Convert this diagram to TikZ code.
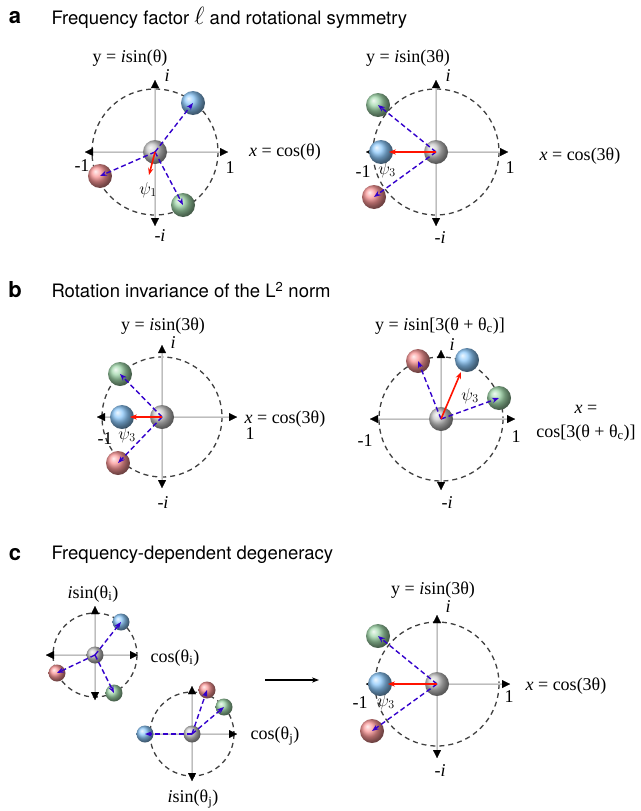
\documentclass[tikz,border=0pt]{standalone}
\usepackage{fontspec}
\setmainfont{Liberation Serif}
\newfontfamily\hel{TeX Gyre Heros}
\usetikzlibrary{arrows.meta}
\tikzset{
  ax/.style={gray!30, line width=1.2pt},
  axtip/.style={-{Triangle[length=8pt,width=8pt]}, black, line width=0.01pt},
  ring/.style={dashed, dash pattern=on 5pt off 4pt, line width=1.3pt, black!75},
  ball/.style={circle, minimum size=24pt, inner sep=0pt, shading=ball, ball color=#1},
  vec/.style={-{Stealth[length=7pt]}, dashed, dash pattern=on 5pt off 3pt, line width=1.4pt, blue!60!violet},
  psi/.style={-{Stealth[length=7pt]}, line width=1.6pt, red!85!orange},
  lab/.style={font=\fontsize{18}{20}\selectfont},
  ttl/.style={font=\hel\fontsize{18.5}{21}\selectfont, anchor=west},
  pan/.style={font=\hel\bfseries\fontsize{22}{24}\selectfont}
}
\newcommand{\plane}[7]{% cx cy r left right top bottom
  \draw[ring] (#1,#2) circle[radius=#3];
  \draw[ax] (#4,#2) -- (#5,#2);
  \draw[ax] (#1,#6) -- (#1,#7);
  \draw[axtip] (#1+1,#2) -- (#5,#2);
  \draw[axtip] (#1-1,#2) -- (#4,#2);
  \draw[axtip] (#1,#2-1) -- (#1,#6);
  \draw[axtip] (#1,#2+1) -- (#1,#7);
}
\begin{document}
\begin{tikzpicture}[x=1pt,y=-1pt]
\useasboundingbox (0,0) rectangle (640,811);
\definecolor{bb}{RGB}{140,200,250}
\definecolor{rb}{RGB}{250,150,150}
\definecolor{gb}{RGB}{160,215,170}
\definecolor{kb}{RGB}{200,200,200}
% panel a
\node[pan] (pa) at (15,18) {a};
\node[ttl] (ta) at (48,18) {Frequency factor {\fontsize{28}{28}\selectfont$\ell$} and rotational symmetry};
% a left
\plane{155}{152}{63}{85}{228}{80}{226}
\node[ball=kb] (a1g) at (155,152) {};
\node[ball=bb] (a1b) at (193,103) {};
\node[ball=rb] (a1r) at (100,176) {};
\node[ball=gb] (a1e) at (183,205) {};
\draw[vec] (a1g.center) -- (a1b.center);
\draw[vec] (a1g.center) -- (a1r.center);
\draw[vec] (a1g.center) -- (a1e.center);
\coordinate (a1p) at (149,175);
\draw[psi] (a1g.center) -- (a1p);
\node[lab] (a1t) at (130,58) {y = \textit{i}sin(θ)};
\node[lab] (a1i) at (167,76) {\textit{i}};
\node[lab] (a1x) at (285,152) {\textit{x} = cos(θ)};
\node[lab] (a1m) at (82,166) {-1};
\node[lab] (a1o) at (230,168) {1};
\node[lab] (a1n) at (160,236) {-\textit{i}};
\node[lab] (a1s) at (148,190) {$\psi_1$};
% a right
\plane{436}{152}{63}{366}{508}{80}{226}
\node[ball=kb] (a2g) at (436,152) {};
\node[ball=gb] (a2e) at (378,105) {};
\node[ball=bb] (a2b) at (381,152) {};
\node[ball=rb] (a2r) at (374,197) {};
\draw[vec] (a2g.center) -- (a2e.center);
\draw[vec] (a2g.center) -- (a2r.center);
\coordinate (a2p) at (389,152);
\draw[psi] (a2g.center) -- (a2p);
\node[lab] (a2t) at (408,58) {y = \textit{i}sin(3θ)};
\node[lab] (a2i) at (448,76) {\textit{i}};
\node[lab] (a2x) at (580,156) {\textit{x} = cos(3θ)};
\node[lab] (a2m) at (363,172) {-1};
\node[lab] (a2o) at (510,168) {1};
\node[lab] (a2n) at (440,238) {-\textit{i}};
\node[lab] (a2s) at (387,170) {$\psi_3$};
% panel b
\node[pan] (pb) at (15,290) {b};
\node[ttl] (tb) at (48,290) {Rotation invariance of the L\textsuperscript{2} norm};
% b left
\plane{162}{417}{60}{97}{237}{345}{488}
\node[ball=kb] (b1g) at (162,417) {};
\node[ball=gb] (b1e) at (120,374) {};
\node[ball=bb] (b1b) at (122,417) {};
\node[ball=rb] (b1r) at (118,463) {};
\draw[vec] (b1g.center) -- (b1e.center);
\draw[vec] (b1g.center) -- (b1r.center);
\coordinate (b1p) at (130,417);
\draw[psi] (b1g.center) -- (b1p);
\node[lab] (b1t) at (163,326) {y = \textit{i}sin(3θ)};
\node[lab] (b1i) at (173,343) {\textit{i}};
\node[lab] (b1x) at (285,419) {\textit{x} = cos(3θ)};
\node[lab] (b1m) at (105,439) {-1};
\node[lab] (b1o) at (250,434) {1};
\node[lab] (b1n) at (163,503) {-\textit{i}};
\node[lab] (b1s) at (127,435) {$\psi_3$};
% b right
\plane{441}{419}{62}{370}{515}{350}{490}
\node[ball=kb] (b2g) at (441,419) {};
\node[ball=rb] (b2r) at (418,361) {};
\node[ball=bb] (b2b) at (467,360) {};
\node[ball=gb] (b2e) at (499,398) {};
\draw[vec] (b2g.center) -- (b2r.center);
\draw[vec] (b2g.center) -- (b2e.center);
\coordinate (b2p) at (461,372);
\draw[psi] (b2g.center) -- (b2p);
\node[lab] (b2t) at (440,326) {y = \textit{i}sin[3(θ + θ\textsubscript{c})]};
\node[lab] (b2i) at (452,345) {\textit{i}};
\node[lab] (b2x) at (586,409) {\textit{x} =};
\node[lab] (b2y) at (586,433) {cos[3(θ + θ\textsubscript{c})]};
\node[lab] (b2m) at (365,441) {-1};
\node[lab] (b2o) at (516,437) {1};
\node[lab] (b2n) at (447,503) {-\textit{i}};
\node[lab] (b2s) at (470,396) {$\psi_3$};
% panel c
\node[pan] (pc) at (15,555) {c};
\node[ttl] (tc) at (48,555) {Frequency-dependent degeneracy};
% c left 1
\plane{95}{655}{42}{46}{138}{606}{700}
\node[ball=kb, minimum size=17pt] (c1g) at (95,655) {};
\node[ball=bb, minimum size=17pt] (c1b) at (121,622) {};
\node[ball=rb, minimum size=17pt] (c1r) at (57,673) {};
\node[ball=gb, minimum size=17pt] (c1e) at (114,693) {};
\draw[vec] (c1g.center) -- (c1b.center);
\draw[vec] (c1g.center) -- (c1r.center);
\draw[vec] (c1g.center) -- (c1e.center);
\node[lab] (c1t) at (93,594) {\textit{i}sin(θ\textsubscript{i})};
\node[lab] (c1x) at (175,658) {cos(θ\textsubscript{i})};
% c left 2
\plane{192}{734}{42}{140}{237}{686}{781}
\node[ball=kb, minimum size=17pt] (c2g) at (192,734) {};
\node[ball=rb, minimum size=17pt] (c2r) at (207,690) {};
\node[ball=gb, minimum size=17pt] (c2e) at (224,707) {};
\node[ball=bb, minimum size=17pt] (c2b) at (145,734) {};
\draw[vec] (c2g.center) -- (c2r.center);
\draw[vec] (c2g.center) -- (c2e.center);
\draw[vec] (c2g.center) -- (c2b.center);
\node[lab] (c2x) at (275,736) {cos(θ\textsubscript{j})};
\node[lab] (c2t) at (193,799) {\textit{i}sin(θ\textsubscript{j})};
% arrow
\coordinate (ca) at (265,680);
\coordinate (cb) at (319,680);
\draw[-{Stealth[length=7pt]}, line width=1.2pt] (ca) -- (cb);
% c right
\plane{437}{684}{62}{366}{510}{615}{758}
\node[ball=kb] (c3g) at (437,684) {};
\node[ball=gb] (c3e) at (378,636) {};
\node[ball=bb] (c3b) at (380,684) {};
\node[ball=rb] (c3r) at (372,731) {};
\draw[vec] (c3g.center) -- (c3e.center);
\draw[vec] (c3g.center) -- (c3r.center);
\coordinate (c3p) at (388,684);
\draw[psi] (c3g.center) -- (c3p);
\node[lab] (c3t) at (433,590) {y = \textit{i}sin(3θ)};
\node[lab] (c3i) at (448,607) {\textit{i}};
\node[lab] (c3x) at (566,686) {\textit{x} = cos(3θ)};
\node[lab] (c3m) at (360,703) {-1};
\node[lab] (c3o) at (509,697) {1};
\node[lab] (c3n) at (440,771) {-\textit{i}};
\node[lab] (c3s) at (386,702) {$\psi_3$};
\end{tikzpicture}
\end{document}
